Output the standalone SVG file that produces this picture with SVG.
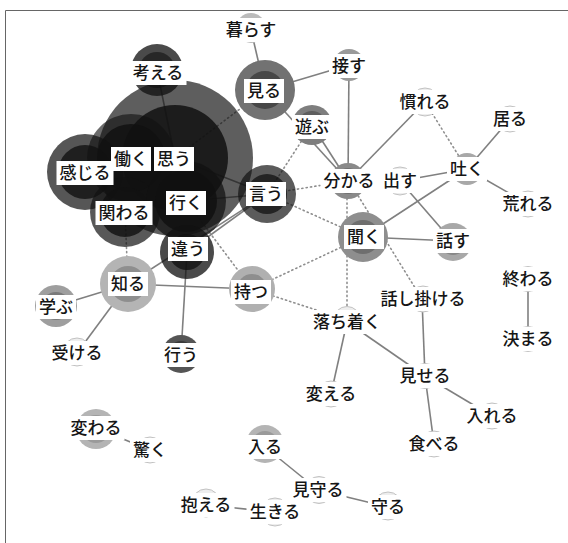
<svg xmlns="http://www.w3.org/2000/svg" width="568" height="543" viewBox="0 0 568 543">
<style>
.t{font-family:"Noto Sans CJK JP","Noto Sans CJK SC",sans-serif;font-size:17px;font-weight:500;text-anchor:middle;fill:#151515}
.b{fill:#ffffff}
.e{stroke:#808080;stroke-width:1.6;fill:none}
.d{stroke:#8e8e8e;stroke-width:1.6;fill:none;stroke-dasharray:1.2 3.2;stroke-linecap:round}
.f{fill:#eeeeee;stroke:#c2c2c2;stroke-width:1}
.k{fill:#111111}
</style>
<rect x="0" y="0" width="568" height="543" fill="#ffffff"/>
<path d="M5.5 543 V10.5 H568" fill="none" stroke="#666" stroke-width="1"/>
<g id="connectors">
<line class="e" x1="251" y1="30" x2="265" y2="90"/>
<line class="e" x1="265" y1="90" x2="349" y2="65"/>
<line class="e" x1="265" y1="90" x2="348" y2="181"/>
<line class="e" x1="312" y1="125" x2="348" y2="181"/>
<line class="e" x1="349" y1="65" x2="348" y2="181"/>
<line class="e" x1="425" y1="102" x2="348" y2="181"/>
<line class="e" x1="467" y1="169" x2="510" y2="119"/>
<line class="e" x1="467" y1="169" x2="528" y2="204"/>
<line class="e" x1="467" y1="169" x2="400" y2="181"/>
<line class="e" x1="467" y1="169" x2="363" y2="237"/>
<line class="e" x1="400" y1="181" x2="453" y2="242"/>
<line class="e" x1="363" y1="237" x2="453" y2="241"/>
<line class="e" x1="157" y1="70" x2="175" y2="158"/>
<line class="e" x1="267" y1="194" x2="175" y2="158"/>
<line class="e" x1="267" y1="194" x2="186" y2="201"/>
<line class="e" x1="267" y1="194" x2="187" y2="252"/>
<line class="e" x1="267" y1="194" x2="128" y2="284"/>
<line class="e" x1="128" y1="284" x2="252" y2="289"/>
<line class="e" x1="128" y1="284" x2="56" y2="306"/>
<line class="e" x1="128" y1="284" x2="77" y2="353"/>
<line class="e" x1="187" y1="252" x2="181" y2="354"/>
<line class="e" x1="347" y1="322" x2="331" y2="394"/>
<line class="e" x1="347" y1="322" x2="425" y2="376"/>
<line class="e" x1="422" y1="299" x2="425" y2="376"/>
<line class="e" x1="425" y1="376" x2="492" y2="416"/>
<line class="e" x1="425" y1="376" x2="434" y2="444"/>
<line class="e" x1="528" y1="279" x2="528" y2="339"/>
<line class="e" x1="96" y1="428" x2="150" y2="450"/>
<line class="e" x1="265" y1="447" x2="318" y2="490"/>
<line class="e" x1="318" y1="490" x2="388" y2="507"/>
<line class="e" x1="206" y1="505" x2="275" y2="512"/>
<line class="d" x1="175" y1="158" x2="265" y2="90"/>
<line class="d" x1="267" y1="194" x2="312" y2="125"/>
<line class="d" x1="267" y1="194" x2="348" y2="181"/>
<line class="d" x1="267" y1="194" x2="363" y2="237"/>
<line class="d" x1="186" y1="201" x2="252" y2="289"/>
<line class="d" x1="252" y1="289" x2="363" y2="237"/>
<line class="d" x1="252" y1="289" x2="347" y2="320"/>
<line class="d" x1="347" y1="181" x2="347" y2="320"/>
<line class="d" x1="349" y1="181" x2="422" y2="299"/>
<line class="d" x1="425" y1="102" x2="467" y2="169"/>
<line class="d" x1="125" y1="212" x2="128" y2="284"/>
</g>
<g id="n-omou"><circle class="k" cx="175" cy="158" r="78" fill-opacity="0.68"/><circle class="k" cx="175" cy="158" r="53" fill-opacity="0.85"/></g>
<g id="n-hataraku"><circle class="k" cx="131" cy="158" r="44" fill-opacity="0.62"/><circle class="k" cx="131" cy="158" r="34" fill-opacity="0.85"/></g>
<g id="n-kanjiru"><circle class="k" cx="85" cy="172" r="38" fill-opacity="0.71"/><circle class="k" cx="85" cy="172" r="27" fill-opacity="0.8"/></g>
<g id="n-kakawaru"><circle class="k" cx="125" cy="212" r="35" fill-opacity="0.7"/><circle class="k" cx="125" cy="212" r="25" fill-opacity="0.82"/></g>
<g id="n-iku"><circle class="k" cx="186" cy="201" r="40" fill-opacity="0.72"/><circle class="k" cx="186" cy="201" r="31" fill-opacity="0.85"/></g>
<g id="n-kangaeru"><circle class="k" cx="157" cy="70" r="26" fill-opacity="0.76"/><circle class="k" cx="157" cy="70" r="18" fill-opacity="0.6"/></g>
<g id="n-chigau"><circle class="k" cx="187" cy="252" r="27" fill-opacity="0.76"/><circle class="k" cx="187" cy="252" r="18" fill-opacity="0.78"/></g>
<g id="n-iu"><circle class="k" cx="267" cy="194" r="29" fill-opacity="0.69"/><circle class="k" cx="267" cy="194" r="20" fill-opacity="0.75"/></g>
<g id="n-miru"><circle cx="265" cy="90" r="30" fill="#727272"/><circle cx="265" cy="90" r="19" fill="#474747"/></g>
<g id="n-shiru"><circle cx="128" cy="284" r="28" fill="#b4b4b4"/><circle cx="128" cy="284" r="18" fill="#8e8e8e"/></g>
<g id="n-motsu"><circle cx="252" cy="289" r="23" fill="#b0b0b0"/><circle cx="252" cy="289" r="15" fill="#8e8e8e"/></g>
<g id="n-kiku"><circle cx="363" cy="237" r="25" fill="#8e8e8e"/><circle cx="363" cy="237" r="17" fill="#6e6e6e"/></g>
<g id="n-wakaru"><circle cx="348" cy="181" r="18" fill="#8a8a8a"/><circle cx="348" cy="181" r="13" fill="#707070"/></g>
<g id="n-asobu"><circle cx="312" cy="125" r="20" fill="#7e7e7e"/><circle cx="312" cy="125" r="14" fill="#5e5e5e"/></g>
<g id="n-sessu"><circle cx="349" cy="65" r="16" fill="#9a9a9a"/><circle cx="349" cy="65" r="11" fill="#777"/></g>
<g id="n-kurasu"><circle cx="251" cy="28" r="15" fill="#bbb"/><circle cx="251" cy="28" r="10" fill="#9c9c9c"/></g>
<g id="n-haku"><circle cx="467" cy="169" r="16" fill="#a8a8a8"/><circle cx="467" cy="169" r="11" fill="#888"/></g>
<g id="n-hanasu"><circle cx="453" cy="242" r="19" fill="#a8a8a8"/><circle cx="453" cy="242" r="13" fill="#888"/></g>
<g id="n-manabu"><circle cx="56" cy="306" r="21" fill="#9e9e9e"/><circle cx="56" cy="306" r="14" fill="#7a7a7a"/></g>
<g id="n-okonau"><circle cx="181" cy="354" r="19" fill="#555"/><circle cx="181" cy="354" r="13" fill="#3a3a3a"/></g>
<g id="n-kawaru"><circle cx="96" cy="429" r="20" fill="#b4b4b4"/><circle cx="96" cy="429" r="14" fill="#9a9a9a"/></g>
<g id="n-hairu"><circle cx="265" cy="444" r="19" fill="#b4b4b4"/><circle cx="265" cy="444" r="13" fill="#9a9a9a"/></g>
<g id="n-dasu"><circle class="f" cx="400" cy="181" r="14"/></g>
<g id="n-nareru"><circle class="f" cx="425" cy="102" r="14"/></g>
<g id="n-iru"><circle class="f" cx="510" cy="119" r="13"/></g>
<g id="n-areru"><circle class="f" cx="528" cy="204" r="13"/></g>
<g id="n-ukeru"><circle class="f" cx="77" cy="352" r="14"/></g>
<g id="n-odoroku"><circle class="f" cx="150" cy="450" r="13"/></g>
<g id="n-kakaeru"><circle class="f" cx="206" cy="503" r="14"/></g>
<g id="n-ikiru"><circle class="f" cx="275" cy="512" r="14"/></g>
<g id="n-mimamoru"><circle class="f" cx="319" cy="490" r="13.5"/></g>
<g id="n-mamoru"><circle class="f" cx="388" cy="506" r="14"/></g>
<g id="n-ochitsuku"><circle class="f" cx="347" cy="320" r="13.5"/></g>
<g id="n-hanashikakeru"><circle class="f" cx="423" cy="299" r="13"/></g>
<g id="n-owaru"><circle class="f" cx="528" cy="279" r="12.5"/></g>
<g id="n-kimaru"><circle class="f" cx="528" cy="339" r="12.5"/></g>
<g id="n-miseru"><circle class="f" cx="425" cy="376" r="12.5"/></g>
<g id="n-kaeru"><circle class="f" cx="331" cy="394" r="13"/></g>
<g id="n-ireru"><circle class="f" cx="492" cy="416" r="13"/></g>
<g id="n-taberu"><circle class="f" cx="434" cy="444" r="13"/></g>
<g id="labels">
<g id="l-kangaeru"><rect class="b" x="129.5" y="61" width="57" height="24"/><text class="t" x="158" y="79">考える</text></g>
<g id="l-miru"><rect class="b" x="244" y="79" width="40" height="24"/><text class="t" x="264" y="97">見る</text></g>
<g id="l-kurasu"><rect class="b" x="222.5" y="18" width="57" height="24"/><text class="t" x="251" y="36">暮らす</text></g>
<g id="l-sessu"><rect class="b" x="329" y="54" width="40" height="24"/><text class="t" x="349" y="72">接す</text></g>
<g id="l-asobu"><rect class="b" x="292" y="115" width="40" height="24"/><text class="t" x="312" y="133">遊ぶ</text></g>
<g id="l-wakaru"><rect class="b" x="320.5" y="169" width="57" height="24"/><text class="t" x="349" y="187">分かる</text></g>
<g id="l-nareru"><rect class="b" x="396.5" y="90" width="57" height="24"/><text class="t" x="425" y="108">慣れる</text></g>
<g id="l-iru"><rect class="b" x="490" y="107" width="40" height="24"/><text class="t" x="510" y="125">居る</text></g>
<g id="l-haku"><rect class="b" x="447" y="157" width="40" height="24"/><text class="t" x="467" y="175">吐く</text></g>
<g id="l-dasu"><rect class="b" x="380" y="169" width="40" height="24"/><text class="t" x="400" y="187">出す</text></g>
<g id="l-areru"><rect class="b" x="499.5" y="192" width="57" height="24"/><text class="t" x="528" y="210">荒れる</text></g>
<g id="l-kiku"><rect class="b" x="344" y="225" width="40" height="24"/><text class="t" x="364" y="243">聞く</text></g>
<g id="l-hanasu"><rect class="b" x="433" y="229" width="40" height="24"/><text class="t" x="453" y="247">話す</text></g>
<g id="l-hataraku"><rect class="b" x="111" y="147" width="40" height="24"/><text class="t" x="131" y="165">働く</text></g>
<g id="l-omou"><rect class="b" x="154" y="147" width="40" height="24"/><text class="t" x="174" y="165">思う</text></g>
<g id="l-kanjiru"><rect class="b" x="56.5" y="161" width="57" height="24"/><text class="t" x="85" y="179">感じる</text></g>
<g id="l-iku"><rect class="b" x="166" y="191" width="40" height="24"/><text class="t" x="186" y="209">行く</text></g>
<g id="l-kakawaru"><rect class="b" x="95.5" y="201" width="57" height="24"/><text class="t" x="124" y="219">関わる</text></g>
<g id="l-iu"><rect class="b" x="246" y="182" width="40" height="24"/><text class="t" x="266" y="200">言う</text></g>
<g id="l-chigau"><rect class="b" x="168" y="237" width="40" height="24"/><text class="t" x="188" y="255">違う</text></g>
<g id="l-shiru"><rect class="b" x="108" y="272" width="40" height="24"/><text class="t" x="128" y="290">知る</text></g>
<g id="l-manabu"><rect class="b" x="36" y="295" width="40" height="24"/><text class="t" x="56" y="313">学ぶ</text></g>
<g id="l-ukeru"><rect class="b" x="48.5" y="341" width="57" height="24"/><text class="t" x="77" y="359">受ける</text></g>
<g id="l-okonau"><rect class="b" x="161" y="343" width="40" height="24"/><text class="t" x="181" y="361">行う</text></g>
<g id="l-motsu"><rect class="b" x="231" y="280" width="40" height="24"/><text class="t" x="251" y="298">持つ</text></g>
<g id="l-kawaru"><rect class="b" x="67.5" y="416" width="57" height="24"/><text class="t" x="96" y="434">変わる</text></g>
<g id="l-odoroku"><rect class="b" x="130" y="438" width="40" height="24"/><text class="t" x="150" y="456">驚く</text></g>
<g id="l-hairu"><rect class="b" x="245" y="435" width="40" height="24"/><text class="t" x="265" y="453">入る</text></g>
<g id="l-kakaeru"><rect class="b" x="177.5" y="493" width="57" height="24"/><text class="t" x="206" y="511">抱える</text></g>
<g id="l-ikiru"><rect class="b" x="246.5" y="500" width="57" height="24"/><text class="t" x="275" y="518">生きる</text></g>
<g id="l-mimamoru"><rect class="b" x="289.5" y="478" width="57" height="24"/><text class="t" x="318" y="496">見守る</text></g>
<g id="l-mamoru"><rect class="b" x="368" y="495" width="40" height="24"/><text class="t" x="388" y="513">守る</text></g>
<g id="l-ochitsuku"><rect class="b" x="310" y="310" width="74" height="24"/><text class="t" x="347" y="328">落ち着く</text></g>
<g id="l-hanashikakeru"><rect class="b" x="377.5" y="287" width="91" height="24"/><text class="t" x="423" y="305">話し掛ける</text></g>
<g id="l-owaru"><rect class="b" x="499.5" y="267" width="57" height="24"/><text class="t" x="528" y="285">終わる</text></g>
<g id="l-kimaru"><rect class="b" x="499.5" y="327" width="57" height="24"/><text class="t" x="528" y="345">決まる</text></g>
<g id="l-miseru"><rect class="b" x="396.5" y="364" width="57" height="24"/><text class="t" x="425" y="382">見せる</text></g>
<g id="l-kaeru"><rect class="b" x="302.5" y="382" width="57" height="24"/><text class="t" x="331" y="400">変える</text></g>
<g id="l-ireru"><rect class="b" x="463.5" y="404" width="57" height="24"/><text class="t" x="492" y="422">入れる</text></g>
<g id="l-taberu"><rect class="b" x="405.5" y="432" width="57" height="24"/><text class="t" x="434" y="450">食べる</text></g>
</g>
</svg>
